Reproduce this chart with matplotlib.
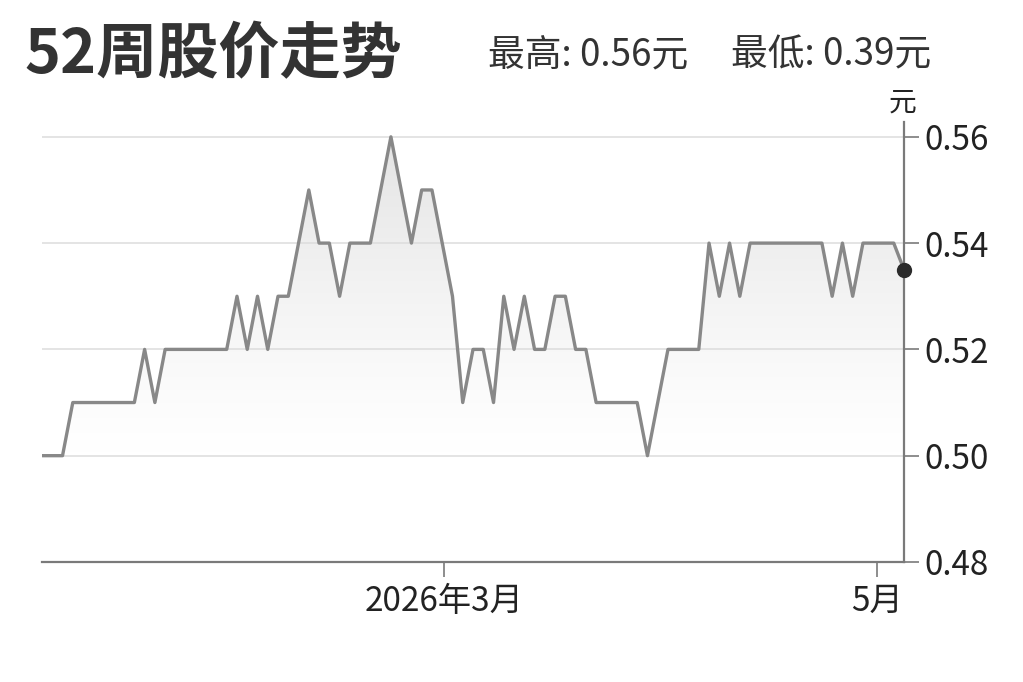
import numpy as np
import matplotlib
matplotlib.use('Agg')
import matplotlib.pyplot as plt
from matplotlib.colors import LinearSegmentedColormap
from matplotlib.patches import Polygon

plt.rcParams['font.family'] = ['Noto Sans CJK SC', 'DejaVu Sans']

title = '52周股价走势'
high_text = '最高: 0.56元'
low_text = '最低: 0.39元'
unit = '元'

# daily closing prices (trading days)
prices = [
    0.50, 0.50, 0.50, 0.51, 0.51, 0.51, 0.51, 0.51, 0.51, 0.51,
    0.52, 0.51, 0.52, 0.52, 0.52, 0.52, 0.52, 0.52, 0.52, 0.53,
    0.52, 0.53, 0.52, 0.53, 0.53, 0.54, 0.55, 0.54, 0.54, 0.53,
    0.54, 0.54, 0.54, 0.55, 0.56, 0.55, 0.54, 0.55, 0.55, 0.54,
    0.53, 0.51, 0.52, 0.52, 0.51, 0.53, 0.52, 0.53, 0.52, 0.52,
    0.53, 0.53, 0.52, 0.52, 0.51, 0.51, 0.51, 0.51, 0.51, 0.50,
    0.51, 0.52, 0.52, 0.52, 0.52, 0.54, 0.53, 0.54, 0.53, 0.54,
    0.54, 0.54, 0.54, 0.54, 0.54, 0.54, 0.54, 0.53, 0.54, 0.53,
    0.54, 0.54, 0.54, 0.54, 0.535,
]
month_pos = [39.2, 81.35]
month_labels = ['2026年3月', '5月']
y_ticks = [0.48, 0.50, 0.52, 0.54, 0.56]

x = np.arange(len(prices))
y = np.array(prices)
ymin, ymax = 0.48, 0.5628

fig = plt.figure(figsize=(10.23, 6.82), dpi=100)
ax = fig.add_axes([42/1023, 0.176, (904-42)/1023, 0.6452])
ax.set_xlim(0, len(prices) - 1)
ax.set_ylim(ymin, ymax)

# gradient fill under the line
cmap = LinearSegmentedColormap.from_list('g', ['#ffffff', '#e3e3e3'])
yy = np.linspace(ymin, ymax, 300)
grad = np.clip((yy - 0.50) / (0.562 - 0.50), 0, 1)[:, None] ** 1.2
im = ax.imshow(grad, extent=[0, len(prices) - 1, ymin, ymax], origin='lower',
               aspect='auto', cmap=cmap, vmin=0, vmax=1, zorder=1)
verts = np.vstack([[x[0], ymin], np.column_stack([x, y]), [x[-1], ymin]])
patch = Polygon(verts, closed=True, facecolor='none', edgecolor='none')
ax.add_patch(patch)
im.set_clip_path(patch)

for t in y_ticks[1:]:
    ax.axhline(t, color='#dcdcdc', lw=1.1, zorder=2)

ax.plot(x, y, color='#888888', lw=2.4, zorder=3)
ax.plot(x[-1], y[-1], 'o', color='#2b2b2b', ms=10, zorder=4, clip_on=False)

for s in ['left', 'top']:
    ax.spines[s].set_visible(False)
for s in ['right', 'bottom']:
    ax.spines[s].set_color('#7a7a7a')
    ax.spines[s].set_linewidth(1.6)

ax.yaxis.tick_right()
ax.set_yticks(y_ticks)
ax.set_yticklabels([f'{v:.2f}' for v in y_ticks])
ax.set_xticks(month_pos)
ax.set_xticklabels(month_labels)
ax.tick_params(axis='y', length=11, width=1.2, color='#7a7a7a', pad=4,
               labelsize=24, labelcolor='#222222')
ax.tick_params(axis='x', length=11, width=1.2, color='#7a7a7a', pad=5,
               labelsize=24, labelcolor='#222222')

fig.text(0.024, 0.919, title, fontsize=44, fontweight='bold', color='#333333',
         va='center', ha='left')
fig.text(488/1023, 0.919, high_text, fontsize=26.5, color='#333333',
         va='center', ha='left')
fig.text(731/1023, 0.919, low_text, fontsize=26.5, color='#333333',
         va='center', ha='left')
fig.text(903/1023, 1 - 103/682, unit, fontsize=20, color='#222222',
         va='center', ha='center')

fig.savefig('out.png', dpi=100, facecolor='white')
